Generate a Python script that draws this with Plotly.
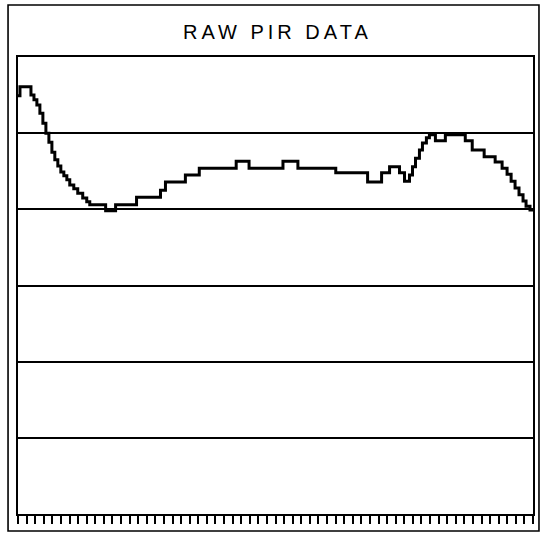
import plotly.graph_objects as go

# Step positions (sample index, 0..60) and raw PIR readings (grid units)
sample_x = [0.0, 0.23, 1.51, 1.86, 2.20, 2.55, 2.90, 3.25, 3.60, 3.95, 4.29, 4.64,
            4.99, 5.34, 5.69, 6.03, 6.50, 6.96, 7.54, 8.01, 8.36, 10.21, 11.37,
            13.81, 16.60, 17.18, 19.50, 21.12, 25.42, 26.92, 30.87, 32.61, 37.02,
            40.73, 42.36, 43.29, 44.45, 45.03, 45.61, 45.96, 46.31, 46.77, 47.12,
            47.58, 47.93, 48.63, 49.79, 52.11, 52.92, 54.31, 55.59, 56.40, 56.98,
            57.45, 57.91, 58.37, 58.84, 59.19, 59.65, 60.0]
pir_value = [5.49, 5.61, 5.50, 5.44, 5.37, 5.26, 5.13, 5.00, 4.88, 4.75, 4.65, 4.57,
             4.49, 4.44, 4.39, 4.32, 4.27, 4.21, 4.15, 4.10, 4.06, 3.98, 4.06,
             4.16, 4.25, 4.36, 4.45, 4.54, 4.63, 4.54, 4.63, 4.54, 4.48,
             4.36, 4.48, 4.56, 4.48, 4.37, 4.45, 4.56, 4.67, 4.78, 4.87,
             4.94, 4.98, 4.90, 4.98, 4.90, 4.78, 4.69, 4.62, 4.54, 4.46,
             4.37, 4.28, 4.19, 4.11, 4.04, 3.99, 3.99]

title_text = "RAW PIR DATA"
x_range = [0, 60]
y_range = [0, 6]

fig = go.Figure()
fig.add_trace(go.Scatter(
    x=sample_x, y=pir_value, mode="lines",
    line=dict(color="black", width=3, shape="hv"),
    showlegend=False, hoverinfo="skip"))

fig.update_layout(
    width=544, height=535,
    margin=dict(l=18, r=9, t=57, b=21),
    paper_bgcolor="white", plot_bgcolor="white",
    showlegend=False,
    xaxis=dict(range=x_range, showgrid=False, zeroline=False,
               showline=True, linecolor="black", linewidth=2, mirror=True,
               ticks="outside", ticklen=8, tickwidth=1.6, tickcolor="black",
               tick0=0, dtick=1, showticklabels=False, fixedrange=True),
    yaxis=dict(range=y_range, showgrid=True, gridcolor="black", gridwidth=1.8,
               zeroline=False, showline=True, linecolor="black", linewidth=2,
               mirror=True, ticks="", tick0=0, dtick=1, showticklabels=False,
               fixedrange=True),
    shapes=[dict(type="rect", xref="paper", yref="paper",
                 x0=(8 - 18) / 517, x1=(541 - 18) / 517,
                 y0=(514 - 531) / 457, y1=(514 - 5) / 457,
                 line=dict(color="black", width=1.6), layer="below")],
    annotations=[dict(text='<span style="letter-spacing:4px">' + title_text + '</span>',
                      xref="paper", yref="paper",
                      x=(279 - 18) / 517, y=(514 - 32) / 457,
                      xanchor="center", yanchor="middle", showarrow=False,
                      font=dict(family="Liberation Sans, Arial, sans-serif",
                                size=20, color="black"))],
)

fig.write_html("out.html", config={"displayModeBar": False},
               post_script="document.body.style.margin='0';document.body.style.padding='0';")
